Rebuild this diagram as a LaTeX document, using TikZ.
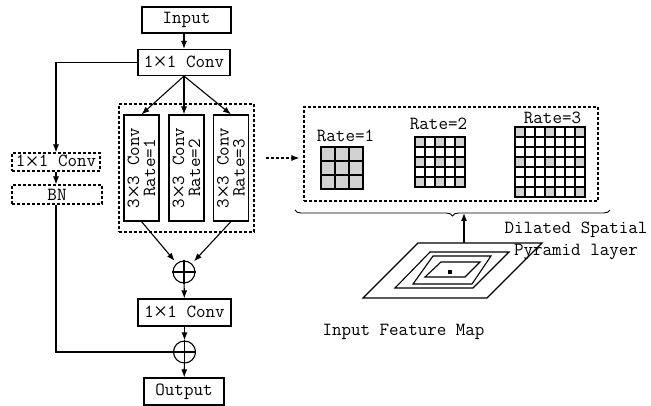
\documentclass[tikz,border=0pt]{standalone}
\usepackage{fontspec}
\usetikzlibrary{arrows.meta, decorations.pathreplacing}
\definecolor{cellgray}{HTML}{D2D2D2}
\newfontfamily\xfont{Liberation Serif}
\newcommand{\tms}{\raisebox{-2.5pt}{\xfont\fontsize{24}{22}\selectfont×}}

\begin{document}
\begin{tikzpicture}[x=1pt, y=1pt, line width=1.1pt,
    every node/.style={font=\ttfamily\fontsize{18.5}{22}\selectfont, align=center, inner sep=0pt},
    blk/.style={draw, minimum height=26pt},
    dbox/.style={draw, dash pattern=on 3pt off 2pt},
    vbox/.style={draw, rotate=90, minimum width=106pt, minimum height=35pt, font=\ttfamily\fontsize{18.5}{16}\selectfont},
    sum/.style={draw, circle, minimum size=22pt},
    arr/.style={-{Latex[length=8pt, width=6pt]}}]
    \useasboundingbox (0,0) rectangle (651,-406);

    % Main path
    \node[blk, minimum width=89pt] (in) at (186.5,-20) {Input};
    \node[blk, minimum width=92pt] (c1) at (184,-62.5) {1\tms1 Conv};
    \node[dbox, minimum width=135pt, minimum height=128pt] (grp) at (186.5,-168) {};
    \node[vbox] (b1) at (141.5,-168) {3\tms3 Conv\\Rate=1};
    \node[vbox] (b2) at (186.5,-168) {3\tms3 Conv\\Rate=2};
    \node[vbox] (b3) at (231,-168) {3\tms3 Conv\\Rate=3};
    \node[sum] (p1) at (184,-272) {};
    \node[blk, minimum width=93pt, minimum height=27pt] (c2) at (184.5,-312.5) {1\tms1 Conv};
    \node[sum] (p2) at (184.5,-352) {};
    \node[blk, minimum width=80pt, minimum height=27pt] (out) at (184,-391.5) {Output};

    % Shortcut branch
    \node[dbox, minimum width=88pt, minimum height=18pt] (dc) at (56,-162) {1\tms1 Conv};
    \node[dbox, minimum width=90pt, minimum height=19pt] (bn) at (57,-194.5) {BN};

    % Connections
    \draw[arr] (c1.north |- in.south) -- (c1.north);
    \draw[arr] (c1.west) -| (dc.north);
    \draw[arr] (dc.south) -- (dc.south |- bn.north);
    \draw (bn.south -| dc.south) |- (p2.west);
    \draw[arr] (c1.south) -- (b1.east);
    \draw[arr] (c1.south) -- (c1.south |- b2.east);
    \draw[arr] (c1.south) -- (b3.east);
    \draw[arr, shorten >=3pt] (b1.west) -- (p1);
    \draw[arr, shorten >=3pt] (b3.west) -- (p1);
    \draw[arr] (p1) -- (c2);
    \draw[arr] (c2) -- (p2);
    \draw[arr] (p2) -- (out);
    \foreach \p in {p1,p2}
      \draw (\p.north) -- (\p.south) (\p.west) -- (\p.east);

    % Dilated kernels
    \node[dbox, minimum width=294pt, minimum height=94pt] (rb) at (451,-154) {};
    \draw[arr, dash pattern=on 3pt off 2pt] ([xshift=11pt, yshift=10pt]grp.east) -- ([xshift=-4pt, yshift=-4pt]rb.west);

    \begin{scope}[shift={(321,-147)}]
      \foreach \i in {0,1,2} \foreach \j in {0,1,2}
        \filldraw[fill=cellgray] (14*\i,-14*\j) rectangle ++(14,-14);
    \end{scope}
    \begin{scope}[shift={(415,-137)}]
      \foreach \i in {0,2,4} \foreach \j in {0,2,4}
        \fill[cellgray] (10*\i,-10*\j) rectangle ++(10,-10);
      \foreach \i in {0,...,4} \foreach \j in {0,...,4}
        \draw (10*\i,-10*\j) rectangle ++(10,-10);
    \end{scope}
    \begin{scope}[shift={(515,-127)}]
      \foreach \i in {0,3,6} \foreach \j in {0,3,6}
        \fill[cellgray] (10*\i,-10*\j) rectangle ++(10,-10);
      \foreach \i in {0,...,6} \foreach \j in {0,...,6}
        \draw (10*\i,-10*\j) rectangle ++(10,-10);
    \end{scope}

    \node[anchor=south] (r1) at (345.5,-142.7) {Rate=1};
    \node[anchor=south] (r2) at (438.5,-130.7) {Rate=2};
    \node[anchor=south] (r3) at (552.5,-124.7) {Rate=3};

    % Brace
    \draw[line width=0.9pt, decorate, decoration={brace, mirror, amplitude=6pt}] (295,-210) -- (610,-210);

    % Input feature map
    \draw (363,-298) -- (487,-298) -- (542,-243) -- (418,-243) -- cycle;
    \draw (395,-288) -- (473,-288) -- (509,-252) -- (430,-252) -- cycle;
    \draw (413,-284) -- (472,-284) -- (491,-256) -- (433,-256) -- cycle;
    \draw (425,-277) -- (465,-277) -- (480,-262) -- (441,-262) -- cycle;
    \fill (448,-270) rectangle (452,-274);
    \coordinate (fm) at (464,-243);
    \coordinate (bt) at (464,-213);
    \draw[arr] (fm) -- (bt);

    \node (dsp) at (576,-241) {Dilated Spatial\\Pyramid layer};
    \node (ifm) at (403.5,-332) {Input Feature Map};
\end{tikzpicture}
\end{document}
